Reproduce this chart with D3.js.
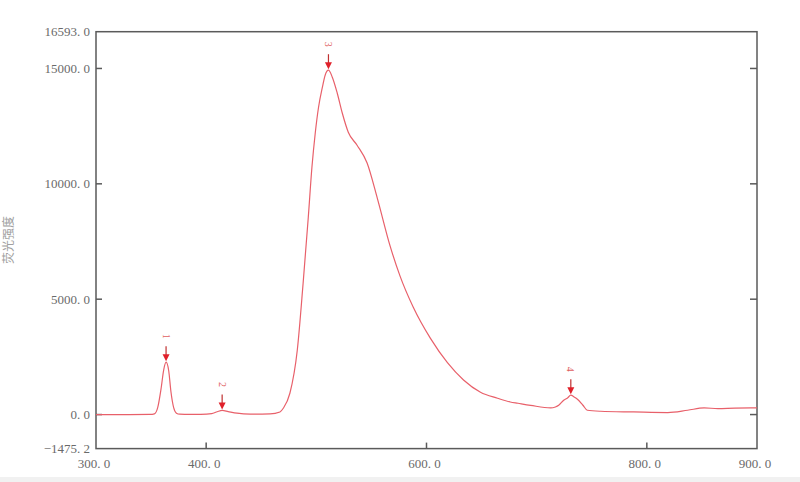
<!DOCTYPE html>
<html><head><meta charset="utf-8">
<script src="https://cdnjs.cloudflare.com/ajax/libs/d3/7.8.5/d3.min.js"></script>
<style>body{margin:0;background:#fff}svg{display:block}</style>
</head><body>
<script>
const wavelength = [300,330,349,353,356,359,361.5,363.6,366,368,370.5,373,376,385,395,405,410,414.5,420,428,440,458,467,470,476,482.7,488,492.7,496,499,502,505.5,508,511,514.5,519,523.6,529,537,546,555.5,567,576,588,603.6,619,633.6,649,664.5,676,683,694.5,712.7,717,720,724.5,728,731,734,737,742,746,758,788,819,837,852,864.5,880,897,900];
const intensity = [0,0,5,30,300,1100,1950,2270,1900,1000,300,60,15,5,10,40,120,180,130,60,20,30,113,273,923,2787,5690,8551,10718,12192,13320,14187,14707,14924,14620,13927,13060,12237,11673,10914,9350,7300,6000,4650,3300,2250,1500,967,707,546,490,400,286,330,403,620,720,840,760,663,403,186,143,113,87,186,286,260,280,286,286];
const peakLabels = ["1","2","3","4"];
const peakWavelength = [363.6,414.5,511,731];
const peakValue = [2270,180,14924,840];
const yTickValues = [0,5000,10000,15000];
const yLabelValues = [-1475.2,0,5000,10000,15000,16593];
const xTickValues = [400,600,800];
const xLabelValues = [300,400,600,800,900];
const yTitle = "荧光强度";

const W=800,H=482;
const svg=d3.select("body").append("svg").attr("width",W).attr("height",H);
const x=d3.scaleLinear().domain([300,900]).range([96,757]);
const y=d3.scaleLinear().domain([-1475.2,16593]).range([448.6,31.7]);
const fmt=v=>d3.format(".1f")(v).replace(".",". ").replace("-","\u2212");
const axisColor="#5a5a5a", textColor="#6a6a6a", font="'Liberation Serif', serif";

// bottom strip
svg.append("rect").attr("x",0).attr("y",477).attr("width",W).attr("height",5).attr("fill","#f1f1f1");

// frame
svg.append("rect").attr("x",x(300)).attr("y",y(16593)).attr("width",x(900)-x(300)).attr("height",y(-1475.2)-y(16593))
  .attr("fill","none").attr("stroke",axisColor).attr("stroke-width",1.5);

// y ticks left and right
const gyl=svg.append("g").attr("transform",`translate(${x(300)},0)`);
gyl.selectAll("line").data(yTickValues).join("line").attr("x1",0).attr("x2",6).attr("y1",d=>y(d)).attr("y2",d=>y(d)).attr("stroke",axisColor).attr("stroke-width",1.5);
const gyr=svg.append("g").attr("transform",`translate(${x(900)},0)`);
gyr.selectAll("line").data(yTickValues).join("line").attr("x1",0).attr("x2",-7).attr("y1",d=>y(d)).attr("y2",d=>y(d)).attr("stroke",axisColor).attr("stroke-width",1.5);
svg.append("g").selectAll("text").data(yLabelValues).join("text")
  .attr("x",90).attr("y",d=>y(d)).attr("dy","0.35em").attr("text-anchor","end")
  .attr("font-family",font).attr("font-size",13).attr("fill",textColor).text(fmt);

// x ticks
const gxb=svg.append("g").attr("transform",`translate(0,${y(-1475.2)})`);
gxb.selectAll("line").data(xTickValues).join("line").attr("x1",d=>x(d)).attr("x2",d=>x(d)).attr("y1",0).attr("y2",-6).attr("stroke",axisColor).attr("stroke-width",1.5);
svg.append("g").selectAll("text").data(xLabelValues).join("text")
  .attr("x",d=>x(d)-2).attr("y",468).attr("text-anchor","middle")
  .attr("font-family",font).attr("font-size",13).attr("fill",textColor).text(fmt);

// y title
svg.append("text").attr("transform","translate(13,240) rotate(-90)").attr("text-anchor","middle")
  .attr("font-family","'Noto Sans CJK SC', sans-serif").attr("font-size",12).attr("fill","#a0a0a0").text(yTitle);

// curve
const pts=wavelength.map((w,i)=>[w,intensity[i]]);
svg.append("path").datum(pts)
  .attr("d",d3.line().x(d=>x(d[0])).y(d=>y(d[1])).curve(d3.curveMonotoneX))
  .attr("fill","none").attr("stroke","#e8606a").attr("stroke-width",1.2);

// peak markers
const red="#e0202a";
peakLabels.forEach((lab,i)=>{
  const px=x(peakWavelength[i]), py=y(peakValue[i])-1;
  svg.append("line").attr("x1",px).attr("x2",px).attr("y1",py-15).attr("y2",py-5).attr("stroke","#c03030").attr("stroke-width",1.2);
  svg.append("path").attr("d",`M${px-3.5},${py-7}L${px+3.5},${py-7}L${px},${py}Z`).attr("fill",red);
  svg.append("text").attr("transform",`translate(${px},${py-25}) rotate(90)`).attr("text-anchor","middle").attr("dy","0.35em")
    .attr("font-family",font).attr("font-size",10).attr("fill","#e06060").text(lab);
});
</script>
</body></html>
